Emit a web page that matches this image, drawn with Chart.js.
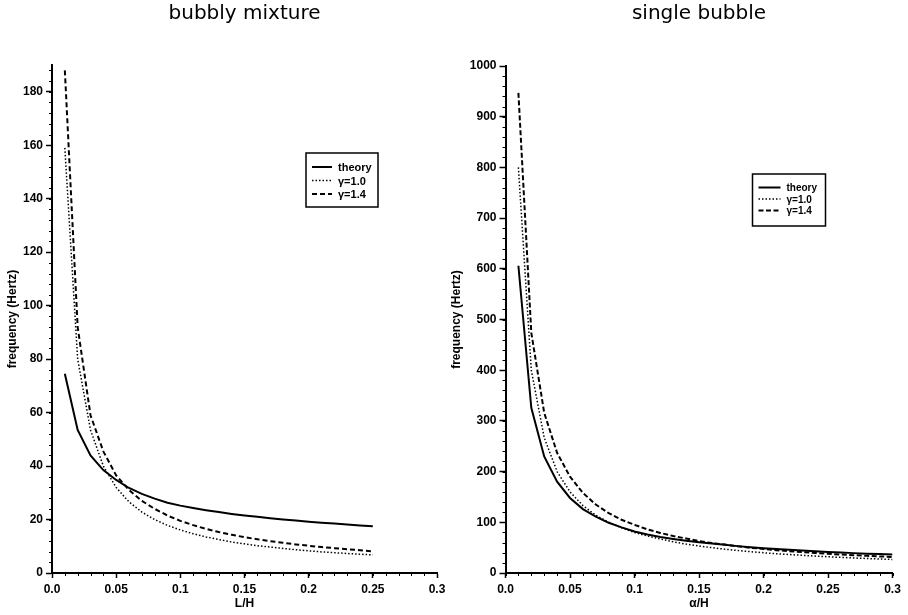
<!DOCTYPE html>
<html>
<head>
<meta charset="utf-8">
<script src="https://cdn.jsdelivr.net/npm/chart.js@4"></script>
<style>
  body { margin: 0; background: #fff; }
  #wrap { position: relative; width: 908px; height: 615px; }
  canvas { position: absolute; top: 0; }
</style>
</head>
<body>
<div id="wrap">
  <canvas id="mixtureChart" width="454" height="615" style="left:0"></canvas>
  <canvas id="bubbleChart" width="468" height="615" style="left:440px"></canvas>
</div>
<script>
// data
const xMixture = [0.01, 0.02, 0.03, 0.04, 0.05, 0.06, 0.07, 0.08, 0.09, 0.10, 0.11, 0.12, 0.13,
                  0.14, 0.15, 0.16, 0.17, 0.18, 0.19, 0.20, 0.21, 0.22, 0.23, 0.24, 0.25];
const mixtureTheory = [74.5, 53.5, 44, 38.5, 34.8, 31.8, 29.6, 27.8, 26.3, 25.2, 24.3, 23.5, 22.8,
                       22.1, 21.5, 21.0, 20.5, 20.0, 19.6, 19.2, 18.8, 18.5, 18.1, 17.8, 17.5];
const mixtureGamma10 = [159, 80, 53.5, 40, 32, 26.6, 22.8, 20, 17.8, 16.1, 14.7, 13.5, 12.5,
                        11.6, 10.9, 10.2, 9.7, 9.2, 8.7, 8.3, 7.9, 7.6, 7.3, 7.0, 6.8];
const mixtureGamma14 = [188, 92, 59, 45.5, 36.5, 31, 27, 24, 21.5, 19.5, 17.9, 16.5, 15.3,
                        14.3, 13.4, 12.6, 11.9, 11.3, 10.7, 10.2, 9.7, 9.3, 8.9, 8.5, 8.1];

const xBubble = [0.01, 0.02, 0.03, 0.04, 0.05, 0.06, 0.07, 0.08, 0.09, 0.10, 0.11, 0.12, 0.13, 0.14, 0.15,
                 0.16, 0.17, 0.18, 0.19, 0.20, 0.21, 0.22, 0.23, 0.24, 0.25, 0.26, 0.27, 0.28, 0.29, 0.30];
const bubbleTheory = [606, 326, 230, 180, 148, 126, 111, 99, 90, 82, 76, 71, 67, 63.5, 60.5,
                      58, 55.5, 53, 51, 49, 47.5, 46, 44.5, 43, 41.5, 40.3, 39.2, 38.2, 37.3, 36.5];
const bubbleGamma10 = [800, 400, 267, 200, 160, 133, 114, 100, 89, 80, 73, 67, 61.5, 57, 53.3,
                       50, 47, 44.4, 42, 40, 38, 36.4, 34.8, 33.3, 32, 30.8, 29.6, 28.6, 27.6, 26.7];
const bubbleGamma14 = [947, 474, 316, 237, 190, 158, 135, 118, 105, 95, 86, 79, 73, 68, 63,
                       59, 56, 52.6, 49.8, 47.4, 45, 43, 41.2, 39.5, 37.9, 36.4, 35.1, 33.8, 32.7, 31.6];

const seriesNames = ['theory', 'γ=1.0', 'γ=1.4'];
const xTickValues = [0, 0.05, 0.1, 0.15, 0.2, 0.25, 0.3];
const xTickLabels = ['0.0', '0.05', '0.1', '0.15', '0.2', '0.25', '0.3'];
const mixtureYTicks = [0, 20, 40, 60, 80, 100, 120, 140, 160, 180];
const bubbleYTicks = [0, 100, 200, 300, 400, 500, 600, 700, 800, 900, 1000];

const tickFont = { family: 'Liberation Sans', size: 12, weight: 'bold' };

function toPoints(xs, ys) {
    return xs.map((x, i) => ({ x: x, y: ys[i] }));
}

// small minor ticks along both axes, placed through the scales
const minorTicks = {
    id: 'minorTicks',
    afterDraw(chart, args, opts) {
        const ctx = chart.ctx;
        const xs = chart.scales.x, ys = chart.scales.y;
        ctx.save();
        ctx.strokeStyle = '#000';
        ctx.lineWidth = 1;
        ctx.beginPath();
        for (let v = 0; v <= xs.max + 1e-9; v += opts.xStep) {
            const px = Math.round(xs.getPixelForValue(v)) + 0.5;
            ctx.moveTo(px, xs.top);
            ctx.lineTo(px, xs.top + 3);
        }
        for (let v = 0; v <= ys.max + 1e-9; v += opts.yStep) {
            const py = Math.round(ys.getPixelForValue(v)) + 0.5;
            ctx.moveTo(ys.right, py);
            ctx.lineTo(ys.right - 3, py);
        }
        ctx.stroke();
        ctx.restore();
    }
};

// boxed legend inside the plot, like the original
const boxLegend = {
    id: 'boxLegend',
    afterDraw(chart, args, opts) {
        const ctx = chart.ctx;
        ctx.save();
        ctx.strokeStyle = '#000';
        ctx.lineWidth = 1.5;
        ctx.strokeRect(opts.x, opts.y, opts.w, opts.h);
        ctx.font = 'bold ' + opts.fontSize + 'px "Liberation Sans"';
        ctx.fillStyle = '#000';
        ctx.textBaseline = 'middle';
        chart.data.datasets.forEach((ds, i) => {
            const y = opts.y + opts.rowTop + i * opts.rowGap;
            ctx.beginPath();
            ctx.setLineDash(ds.borderDash || []);
            ctx.lineWidth = ds.borderWidth;
            ctx.moveTo(opts.x + 6, y);
            ctx.lineTo(opts.x + 6 + opts.sample, y);
            ctx.stroke();
            ctx.setLineDash([]);
            ctx.fillText(ds.label, opts.x + 12 + opts.sample, y + 1);
        });
        ctx.restore();
    }
};

function makeChart(canvasId, cfg) {
    return new Chart(document.getElementById(canvasId), {
        type: 'line',
        data: {
            datasets: [
                { label: seriesNames[0], data: toPoints(cfg.xs, cfg.theory),
                  borderColor: '#000', borderWidth: 2, pointRadius: 0 },
                { label: seriesNames[1], data: toPoints(cfg.xs, cfg.g10),
                  borderColor: '#000', borderWidth: 1.5, borderDash: [1.5, 2], pointRadius: 0 },
                { label: seriesNames[2], data: toPoints(cfg.xs, cfg.g14),
                  borderColor: '#000', borderWidth: 2, borderDash: cfg.dash, pointRadius: 0 }
            ]
        },
        options: {
            responsive: false,
            animation: false,
            devicePixelRatio: 1,
            layout: { padding: { left: 0, right: cfg.padRight, top: 0, bottom: 0 } },
            plugins: {
                legend: { display: false },
                tooltip: { enabled: false },
                title: {
                    display: true,
                    fullSize: false,
                    text: cfg.title,
                    color: '#000',
                    font: { family: 'DejaVu Sans', size: 20, weight: 'normal' },
                    padding: { top: 2, bottom: cfg.titleGap }
                },
                minorTicks: { xStep: 0.01, yStep: cfg.yMinor },
                boxLegend: cfg.legend
            },
            scales: {
                x: {
                    type: 'linear',
                    min: 0,
                    max: 0.3,
                    afterBuildTicks: s => { s.ticks = xTickValues.map(v => ({ value: v })); },
                    afterFit: s => { s.height = 42; },
                    ticks: {
                        color: '#000', font: tickFont, padding: 4, maxRotation: 0,
                        callback: (v, i) => xTickLabels[i]
                    },
                    grid: { drawOnChartArea: false, tickLength: 5, tickColor: '#000', tickWidth: 1.5 },
                    border: { color: '#000', width: 2 },
                    title: {
                        display: true, text: cfg.xTitle, color: '#000',
                        font: { family: 'Liberation Sans', size: 12, weight: 'bold' },
                        padding: { top: 0, bottom: 4 }
                    }
                },
                y: {
                    min: 0,
                    max: cfg.yMax,
                    afterBuildTicks: s => { s.ticks = cfg.yTicks.map(v => ({ value: v })); },
                    afterFit: s => { s.width = cfg.yWidth; },
                    ticks: { color: '#000', font: tickFont, padding: 3, callback: v => String(v) },
                    grid: { drawOnChartArea: false, tickLength: 6, tickColor: '#000', tickWidth: 1.5 },
                    border: { color: '#000', width: 2 },
                    title: {
                        display: true, text: 'frequency (Hertz)', color: '#000',
                        font: { family: 'Liberation Sans', size: 12, weight: 'bold' },
                        padding: { top: cfg.yTitlePad, bottom: 0 }
                    }
                }
            }
        },
        plugins: [minorTicks, boxLegend]
    });
}

makeChart('mixtureChart', {
    title: 'bubbly mixture', xTitle: 'L/H',
    xs: xMixture, theory: mixtureTheory, g10: mixtureGamma10, g14: mixtureGamma14,
    dash: [5, 3], yMax: 190, yTicks: mixtureYTicks, yMinor: 4,
    yWidth: 52, yTitlePad: 5, padRight: 17, titleGap: 39,
    legend: { x: 306, y: 153, w: 72, h: 54, sample: 20, rowTop: 14, rowGap: 13.5, fontSize: 11 }
});

makeChart('bubbleChart', {
    title: 'single bubble', xTitle: 'α/H',
    xs: xBubble, theory: bubbleTheory, g10: bubbleGamma10, g14: bubbleGamma14,
    dash: [5, 2.5], yMax: 1000, yTicks: bubbleYTicks, yMinor: 20,
    yWidth: 65.5, yTitlePad: 9, padRight: 15.5, titleGap: 40,
    legend: { x: 312.5, y: 174, w: 73, h: 52, sample: 22, rowTop: 13.5, rowGap: 11.5, fontSize: 10 }
});
</script>
</body>
</html>
